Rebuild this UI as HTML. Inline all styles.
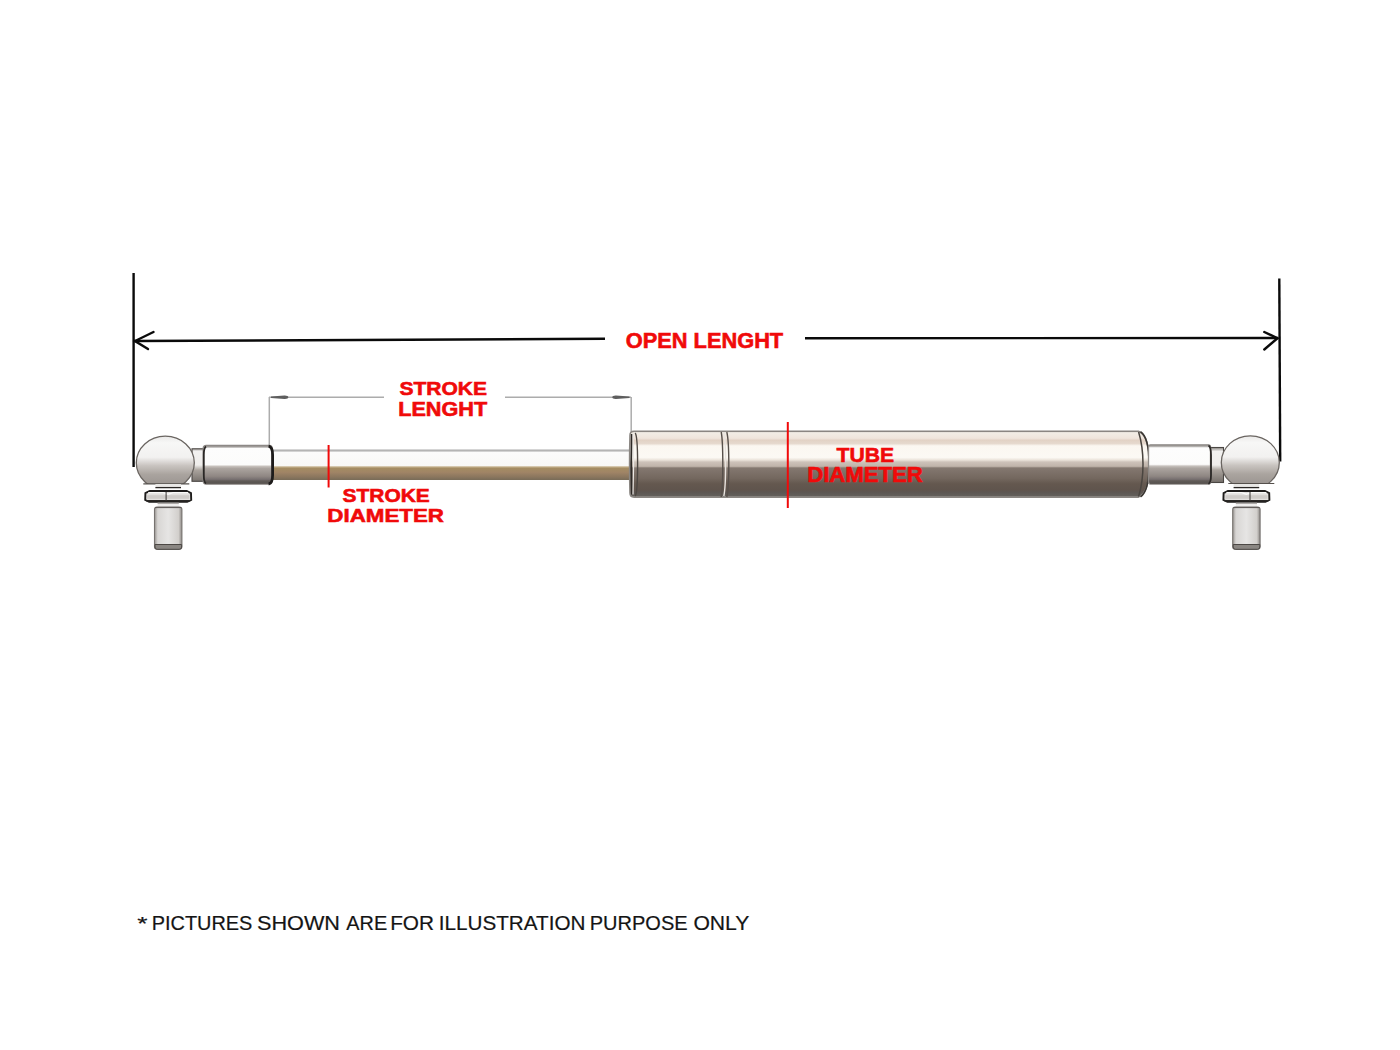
<!DOCTYPE html>
<html><head><meta charset="utf-8">
<style>
html,body{margin:0;padding:0;background:#fff;width:1400px;height:1050px;overflow:hidden;}
svg{display:block;}
.lbl{font-family:"Liberation Sans",sans-serif;font-weight:bold;fill:#f00a0a;stroke:#f00a0a;stroke-width:0.6;}
.note{font-family:"Liberation Sans",sans-serif;fill:#141414;stroke:#141414;stroke-width:0.2;}
</style></head>
<body>
<svg width="1400" height="1050" viewBox="0 0 1400 1050">
<defs>
  <linearGradient id="metal" x1="0" y1="431" x2="0" y2="497" gradientUnits="userSpaceOnUse">
    <stop offset="0" stop-color="#8a8580"/>
    <stop offset="0.025" stop-color="#f2ede6"/>
    <stop offset="0.11" stop-color="#efe5dc"/>
    <stop offset="0.14" stop-color="#e2d2c5"/>
    <stop offset="0.19" stop-color="#e6d9ce"/>
    <stop offset="0.225" stop-color="#fbf7f1"/>
    <stop offset="0.4" stop-color="#fcf9f4"/>
    <stop offset="0.44" stop-color="#ebe3da"/>
    <stop offset="0.47" stop-color="#cdc2b9"/>
    <stop offset="0.535" stop-color="#c0b4aa"/>
    <stop offset="0.56" stop-color="#847870"/>
    <stop offset="0.72" stop-color="#73675e"/>
    <stop offset="0.8" stop-color="#64584f"/>
    <stop offset="0.9" stop-color="#5f544d"/>
    <stop offset="0.93" stop-color="#5c5652"/>
    <stop offset="0.98" stop-color="#625e5a"/>
    <stop offset="1" stop-color="#8a8480"/>
  </linearGradient>
  <linearGradient id="cylL" x1="0" y1="445.4" x2="0" y2="484" gradientUnits="userSpaceOnUse">
    <stop offset="0" stop-color="#9a9692"/>
    <stop offset="0.04" stop-color="#a8a5a2"/>
    <stop offset="0.08" stop-color="#fdfdfd"/>
    <stop offset="0.5" stop-color="#fcfcfb"/>
    <stop offset="0.545" stop-color="#c5bfba"/>
    <stop offset="0.6" stop-color="#aba49f"/>
    <stop offset="0.8" stop-color="#8f8783"/>
    <stop offset="0.88" stop-color="#777070"/>
    <stop offset="0.92" stop-color="#605b57"/>
    <stop offset="1" stop-color="#55514e"/>
  </linearGradient>
  <linearGradient id="cylR" x1="0" y1="444.7" x2="0" y2="484" gradientUnits="userSpaceOnUse">
    <stop offset="0" stop-color="#9a9692"/>
    <stop offset="0.04" stop-color="#a8a5a2"/>
    <stop offset="0.08" stop-color="#fdfdfd"/>
    <stop offset="0.5" stop-color="#fcfcfb"/>
    <stop offset="0.545" stop-color="#c5bfba"/>
    <stop offset="0.6" stop-color="#aba49f"/>
    <stop offset="0.8" stop-color="#8f8783"/>
    <stop offset="0.88" stop-color="#777070"/>
    <stop offset="0.92" stop-color="#605b57"/>
    <stop offset="1" stop-color="#55514e"/>
  </linearGradient>
  <linearGradient id="neck" x1="0" y1="448" x2="0" y2="482" gradientUnits="userSpaceOnUse">
    <stop offset="0" stop-color="#9a9692"/>
    <stop offset="0.1" stop-color="#f2f1f0"/>
    <stop offset="0.5" stop-color="#efedeb"/>
    <stop offset="0.65" stop-color="#aaa39d"/>
    <stop offset="1" stop-color="#77716c"/>
  </linearGradient>
  <linearGradient id="rod" x1="0" y1="449.5" x2="0" y2="480" gradientUnits="userSpaceOnUse">
    <stop offset="0" stop-color="#c4c4c4"/>
    <stop offset="0.08" stop-color="#fbfbfb"/>
    <stop offset="0.53" stop-color="#f8f8f6"/>
    <stop offset="0.57" stop-color="#c4b08a"/>
    <stop offset="0.62" stop-color="#a48c62"/>
    <stop offset="0.75" stop-color="#a08466"/>
    <stop offset="0.9" stop-color="#8a765e"/>
    <stop offset="1" stop-color="#786b58"/>
  </linearGradient>
  <linearGradient id="ball" x1="0" y1="-27" x2="0" y2="21.5" gradientUnits="userSpaceOnUse">
    <stop offset="0" stop-color="#e9e8e7"/>
    <stop offset="0.15" stop-color="#f7f7f6"/>
    <stop offset="0.45" stop-color="#f2f1f0"/>
    <stop offset="0.62" stop-color="#c9c4c0"/>
    <stop offset="0.8" stop-color="#aaa49f"/>
    <stop offset="1" stop-color="#9c9692"/>
  </linearGradient>
  <linearGradient id="pin" x1="0" y1="0" x2="1" y2="0">
    <stop offset="0" stop-color="#9a9692"/>
    <stop offset="0.12" stop-color="#d8d6d4"/>
    <stop offset="0.5" stop-color="#e6e5e4"/>
    <stop offset="0.88" stop-color="#d2cfcc"/>
    <stop offset="1" stop-color="#8c8884"/>
  </linearGradient>
  <clipPath id="ballclip"><rect x="-40" y="-40" width="80" height="61.5"/></clipPath>

  <g id="ballG">
    <ellipse cx="0" cy="0.3" rx="29" ry="26.7" fill="url(#ball)" stroke="#6a6561" stroke-width="1.3" clip-path="url(#ballclip)"/>
    <line x1="-22" y1="21.3" x2="24" y2="21.3" stroke="#55504c" stroke-width="1.2"/>
  </g>
  <g id="nutG">
    <!-- ring -->
    <rect x="-12.8" y="484" width="25.6" height="4" fill="#e9e8e6"/>
    <line x1="-12.8" y1="487.6" x2="12.8" y2="487.6" stroke="#2a2725" stroke-width="1.3"/>
    <!-- nut -->
    <path d="M-22.8 493.2 L-18.5 491 L18.5 491 L22.8 493.2 L23 500 L19 501.8 L-19 501.8 L-23 500 Z" fill="#e2e0de" stroke="#1e1c1b" stroke-width="1.9"/>
    <path d="M-20 492.6 L-5 492.6 L0 494.2 L5 492.6 L20 492.6" stroke="#fafaf9" stroke-width="1.3" fill="none"/>
    <rect x="-21" y="495.2" width="42" height="3.6" fill="#cfccc9"/>
    <line x1="-22" y1="500.8" x2="22" y2="500.8" stroke="#2a2826" stroke-width="1.4"/>
    <!-- pin neck -->
    <rect x="-10.6" y="502.8" width="21.2" height="4.6" fill="#efeeed"/>
    <line x1="-10.6" y1="503.2" x2="10.6" y2="503.2" stroke="#777370" stroke-width="0.8"/>
    <!-- pin -->
    <rect x="-13.7" y="507" width="27.4" height="42.3" rx="2.5" fill="url(#pin)" stroke="#777370" stroke-width="1.1"/>
    <line x1="-13" y1="507.6" x2="13" y2="507.6" stroke="#5c5855" stroke-width="1"/>
    <path d="M-13.2 544.5 L13.4 544.5 L13.4 547 Q13.4 549.3 11 549.3 L-11 549.3 Q-13.2 549.3 -13.2 547 Z" fill="#8a8682" stroke="#4c4845" stroke-width="1"/>
  </g>
</defs>

<!-- OPEN LENGTH dimension (black) -->
<g stroke="#0a0a0a" stroke-width="2.4" fill="none" stroke-linecap="butt">
  <line x1="133.6" y1="273" x2="133.6" y2="467"/>
  <line x1="1279.3" y1="278.5" x2="1280.2" y2="461.5"/>
  <line x1="134" y1="341" x2="605" y2="338.8"/>
  <line x1="805" y1="338.2" x2="1278" y2="338"/>
  <polyline points="153.5,332 135,341 148,349" stroke-linecap="round" stroke-linejoin="miter"/>
  <polyline points="1264.3,332 1277.5,338.2 1264.3,349.5" stroke-linecap="round"/>
</g>

<!-- STROKE LENGTH dimension (grey) -->
<g stroke="#acacac" stroke-width="1.5" fill="none">
  <line x1="269.3" y1="397" x2="269.3" y2="446"/>
  <line x1="631.2" y1="397" x2="631.2" y2="432"/>
  <line x1="269" y1="397.3" x2="384" y2="397.3"/>
  <line x1="505" y1="397.3" x2="631" y2="397.3"/>
  <path d="M271 396.6 L284.5 395.6 Q288.3 395.5 288.3 397.3 Q288.3 399.1 284.5 399 L271 398 Z" fill="#5e5e5e" stroke="none"/>
  <path d="M629.5 396.6 L616 395.6 Q612.3 395.5 612.3 397.3 Q612.3 399.1 616 399 L629.5 398 Z" fill="#5e5e5e" stroke="none"/>
</g>

<!-- ROD -->
<rect x="271" y="449.5" width="361" height="30.5" fill="url(#rod)"/>
<line x1="271" y1="450.6" x2="632" y2="450.6" stroke="#b4b4b4" stroke-width="1.8"/>

<!-- LEFT JOINT -->
<rect x="192" y="448.8" width="13" height="32.5" fill="url(#neck)" stroke="#4a4643" stroke-width="1.1"/>
<g transform="translate(165.3 462.5)"><use href="#ballG"/></g>
<g transform="translate(168.2 0)"><use href="#nutG"/><line x1="-2.1" y1="492" x2="-2.1" y2="501" stroke="#3a3735" stroke-width="1"/></g>
<rect x="203.2" y="445.5" width="69" height="38.5" rx="3" fill="url(#cylL)" stroke="#8d8986" stroke-width="1.3"/>
<line x1="206" y1="483.6" x2="270" y2="483.6" stroke="#5d5854" stroke-width="1"/>
<path d="M206 446.5 Q203.8 448 203.8 455 L203.8 475 Q203.8 482.5 206 483.5" fill="none" stroke="#2a2725" stroke-width="1.8"/>
<path d="M268.6 446.2 Q272.6 447 272.6 455 L272.6 475 Q272.6 483.5 268.6 484" fill="none" stroke="#1e1c1b" stroke-width="2.8"/>

<!-- TUBE -->
<path d="M634 431.3 L1138.5 431.3 Q1149.5 436 1149.5 464.2 Q1149.5 492.4 1138.5 497.1 L634 497.1 Q630 497.1 630 493 Q629.2 464.2 630 435.4 Q630 431.3 634 431.3 Z" fill="url(#metal)" stroke="#8a8682" stroke-width="1.6"/>
<path d="M631.8 434 Q630.6 464.2 631.8 494.5" fill="none" stroke="#2e2a27" stroke-width="1.7"/>
<path d="M635.2 433 Q637.6 436 637.6 464.2 Q637.6 492.4 635.2 496" fill="none" stroke="#4e4843" stroke-width="1.4"/>
<path d="M633 434 Q634.2 464.2 633 494.5" fill="none" stroke="#ebe8e5" stroke-width="1.2"/>
<path d="M721.2 432 Q722.8 440 722.8 464.2 Q722.8 488 721.2 497" fill="none" stroke="#57504b" stroke-width="1.4"/>
<path d="M726.8 432 Q728.8 440 728.8 464.2 Q728.8 488 726.8 497" fill="none" stroke="#57504b" stroke-width="1.4"/>
<path d="M723.8 433 Q725.6 440 725.6 464.2 Q725.6 488 723.8 496" fill="none" stroke="#e9e4df" stroke-width="1.4"/>
<path d="M1138.6 432 Q1143 446 1143 464.2 Q1143 482 1138.6 496.6" fill="none" stroke="#4a4540" stroke-width="1.5"/>
<path d="M1140.5 431.8 Q1149 437 1149 464.2 Q1149 491.5 1140.5 496.8" fill="none" stroke="#3a3632" stroke-width="1.6"/>

<!-- RIGHT JOINT -->
<rect x="1209.5" y="447.5" width="14" height="35" fill="url(#neck)" stroke="#4a4643" stroke-width="1.1"/>
<g transform="translate(1250.3 462.2)"><use href="#ballG"/></g>
<g transform="translate(1246.4 0)"><use href="#nutG"/><line x1="3.6" y1="492" x2="3.6" y2="501" stroke="#3a3735" stroke-width="1"/></g>
<rect x="1148.5" y="444.8" width="62" height="39.2" rx="2" fill="url(#cylR)" stroke="#8d8986" stroke-width="1.3"/>
<line x1="1150" y1="483.5" x2="1209" y2="483.5" stroke="#5d5854" stroke-width="1"/>
<path d="M1208.5 445.5 Q1211 447 1211 455 L1211 475 Q1211 482.5 1208.5 484" fill="none" stroke="#2a2725" stroke-width="1.8"/>

<!-- red markers -->
<line x1="328.6" y1="445" x2="328.6" y2="487.5" stroke="#f00a0a" stroke-width="2"/>
<line x1="787.8" y1="422" x2="787.8" y2="508" stroke="#f00a0a" stroke-width="2"/>

<text class="lbl" x="625.80" y="347.70" font-size="21.7" textLength="157.40" lengthAdjust="spacingAndGlyphs">OPEN LENGHT</text>
<text class="lbl" x="399.40" y="394.50" font-size="19.24" textLength="87.60" lengthAdjust="spacingAndGlyphs">STROKE</text>
<text class="lbl" x="398.20" y="415.70" font-size="19.47" textLength="89.01" lengthAdjust="spacingAndGlyphs">LENGHT</text>
<text class="lbl" x="342.60" y="501.50" font-size="19.24" textLength="87.21" lengthAdjust="spacingAndGlyphs">STROKE</text>
<text class="lbl" x="327.39" y="521.70" font-size="18.92" textLength="116.61" lengthAdjust="spacingAndGlyphs">DIAMETER</text>
<text class="lbl" x="836.59" y="461.70" font-size="20.74" textLength="57.60" lengthAdjust="spacingAndGlyphs">TUBE</text>
<text class="lbl" x="807.20" y="482.10" font-size="21.27" textLength="115.61" lengthAdjust="spacingAndGlyphs">DIAMETER</text>
<text class="note" x="137.21" y="929.50" font-size="18.99" textLength="10.24" lengthAdjust="spacingAndGlyphs">*</text>
<text class="note" x="151.79" y="929.90" font-size="20.49" textLength="100.61" lengthAdjust="spacingAndGlyphs">PICTURES</text>
<text class="note" x="257.00" y="929.90" font-size="20.49" textLength="83.03" lengthAdjust="spacingAndGlyphs">SHOWN</text>
<text class="note" x="346.37" y="929.90" font-size="20.49" textLength="40.83" lengthAdjust="spacingAndGlyphs">ARE</text>
<text class="note" x="390.16" y="929.90" font-size="20.49" textLength="43.88" lengthAdjust="spacingAndGlyphs">FOR</text>
<text class="note" x="438.78" y="929.90" font-size="20.49" textLength="146.63" lengthAdjust="spacingAndGlyphs">ILLUSTRATION</text>
<text class="note" x="589.78" y="929.90" font-size="20.49" textLength="97.83" lengthAdjust="spacingAndGlyphs">PURPOSE</text>
<text class="note" x="693.41" y="929.90" font-size="20.49" textLength="56.00" lengthAdjust="spacingAndGlyphs">ONLY</text>
</svg>
</body></html>
